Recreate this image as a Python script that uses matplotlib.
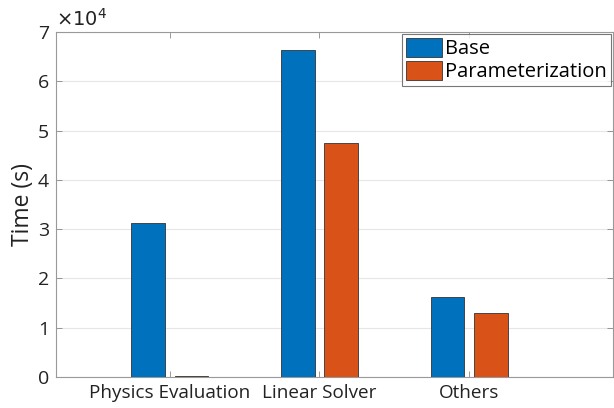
import numpy as np
import matplotlib.pyplot as plt

categories = ["Physics Evaluation", "Linear Solver", "Others"]
base = [31200, 66400, 16300]
param = [250, 47400, 13000]
series_names = ["Base", "Parameterization"]

plt.rcParams['font.family'] = ['Open Sans', 'DejaVu Sans']

fig = plt.figure(figsize=(6.14, 4.08), dpi=100)
ax = fig.add_axes([0.0912, 0.076, 0.907, 0.8456])

x = np.arange(1, len(categories) + 1)
w = 0.225
ax.bar(x - 0.145, base, w, color='#0072BD', edgecolor='#333333', linewidth=0.6,
       label=series_names[0], zorder=3)
ax.bar(x + 0.145, param, w, color='#D95319', edgecolor='#333333', linewidth=0.6,
       label=series_names[1], zorder=3)

ax.set_xlim(0.24, 3.96)
ax.set_ylim(0, 70000)
ax.set_xticks(x)
ax.set_xticklabels(categories, fontsize=13.6, color='#222222')
ax.set_yticks(np.arange(0, 70001, 10000))
ax.set_yticklabels([str(i) for i in range(8)], fontsize=14, color='#222222')
ax.text(0.0, 1.005, r'$\times10^{4}$', transform=ax.transAxes, fontsize=14,
        color='#222222', va='bottom', ha='left')
ax.set_ylabel("Time (s)", fontsize=16.5, color='#222222', labelpad=2)

ax.yaxis.grid(True, color='#e6e6e6', linewidth=0.8, zorder=0)
ax.tick_params(direction='in', top=True, right=True, length=4, color='#888888',
               width=0.6, pad=5)
for s in ax.spines.values():
    s.set_color('#999999')
    s.set_linewidth(0.8)

leg = ax.legend(loc='upper right', fontsize=14.5, frameon=True, fancybox=False,
                edgecolor='#555555', borderpad=0.2, handlelength=1.8,
                handleheight=1.05, handletextpad=0.15, labelspacing=0.1,
                borderaxespad=0.1)
leg.get_frame().set_linewidth(0.8)

fig.savefig("out.png", dpi=100)
